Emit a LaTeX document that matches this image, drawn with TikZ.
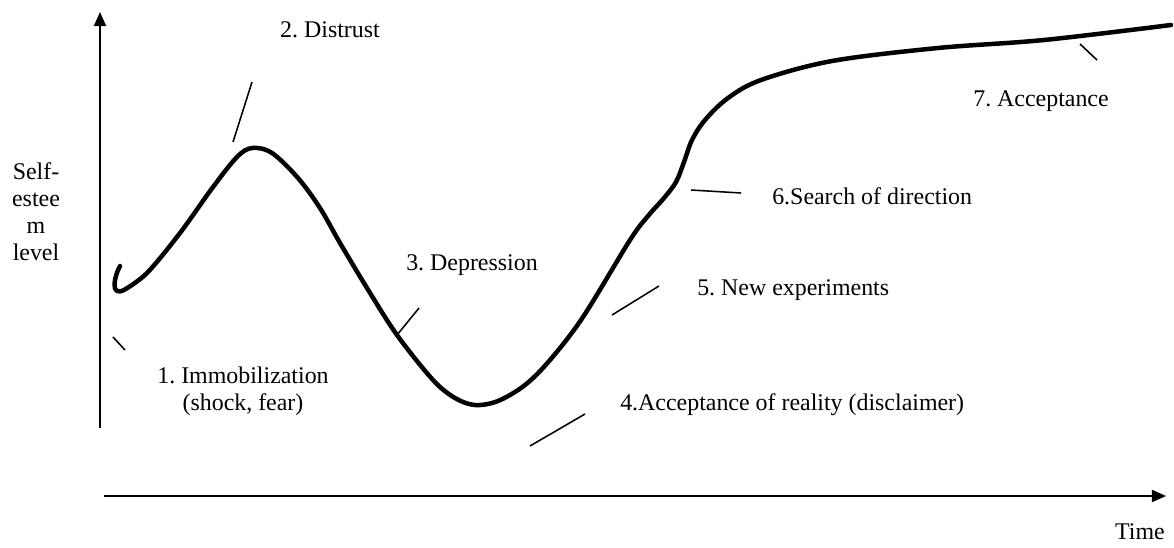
\documentclass[tikz,border=0pt]{standalone}
\usepackage{fontspec}
\setmainfont{Liberation Serif}
\usetikzlibrary{arrows.meta}
\frenchspacing

\begin{document}
\begin{tikzpicture}[x=0.025cm,y=-0.025cm,
    stage/.style={font=\fontsize{17}{19.2}\selectfont,inner sep=0pt},
    marker/.style={line width=1.1pt},
    axisline/.style={line width=1.4pt,-{Triangle[length=10pt,width=8.5pt]}}]
    \useasboundingbox (0,0) rectangle (1174,547);
    % axes
    \coordinate (ybottom) at (100,428);
    \coordinate (ytop) at (100,12);
    \coordinate (xleft) at (104,496);
    \coordinate (xright) at (1166,496);
    \draw[axisline] (ybottom)--(ytop);
    \draw[axisline] (xleft)--(xright);
    \node[stage,align=center] (selfesteem) at (36,212) {Self-\\estee\\m\\level};
    \node[stage] (time) at (1140,532) {Time};
    % curve
    \draw[line width=3.2pt,line cap=round,line join=round] (120,266) .. controls (114,277) and (110,297) .. (124,290)
        -- plot[smooth,tension=0.55] coordinates {(124,290) (147,273) (180,233) (213,187) (237,157) (252,148) (272,153)
        (298,178) (320,208) (340,243) (367,288) (397,335) (433,380) (455,398) (475,405) (498,401) (525,385) (550,360)
        (583,317) (630,240) (648,216) (664,198) (676,182) (684,162) (692,140) (705,120) (728,98) (761,80) (832,61)
        (938,48) (1044,40) (1171,25)};
    % stages
    \coordinate (m1a) at (113,337);
    \coordinate (m1b) at (125,350);
    \draw[marker] (m1a)--(m1b);
    \node[stage,align=center] (immob) at (243,391) {1. Immobilization\\(shock, fear)};
    \coordinate (m2a) at (233,142);
    \coordinate (m2b) at (252,82);
    \draw[marker] (m2a)--(m2b);
    \node[stage] (distrust) at (330,30) {2. Distrust};
    \coordinate (m3a) at (397,335);
    \coordinate (m3b) at (419,308);
    \draw[marker] (m3a)--(m3b);
    \node[stage] (depression) at (472,265) {3. Depression};
    \coordinate (m4a) at (530,446);
    \coordinate (m4b) at (585,414);
    \draw[marker] (m4a)--(m4b);
    \node[stage,anchor=west] (reality) at (620,405) {4.Acceptance of reality (disclaimer)};
    \coordinate (m5a) at (612,315);
    \coordinate (m5b) at (659,286);
    \draw[marker] (m5a)--(m5b);
    \node[stage,anchor=west] (experiments) at (697,290) {5. New experiments};
    \coordinate (m6a) at (691,190);
    \coordinate (m6b) at (741,193);
    \draw[marker] (m6a)--(m6b);
    \node[stage,anchor=west] (direction) at (772,196) {6.Search of direction};
    \coordinate (m7a) at (1080,44);
    \coordinate (m7b) at (1097,60);
    \draw[marker] (m7a)--(m7b);
    \node[stage,anchor=west] (acceptance) at (973,101) {7. Acceptance};
\end{tikzpicture}
\end{document}
